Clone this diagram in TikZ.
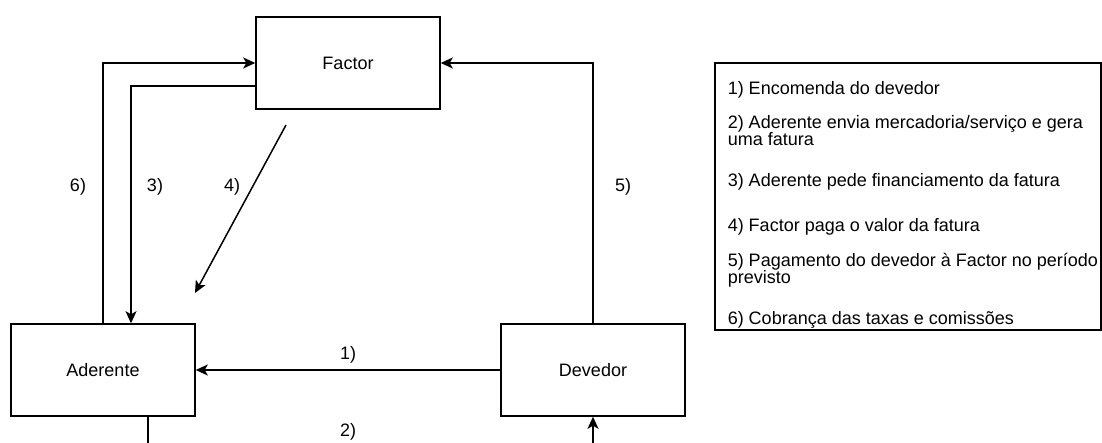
\documentclass[tikz,border=0pt]{standalone}
\usepackage{fontspec}
\setmainfont{Liberation Sans}
\usetikzlibrary{arrows.meta,calc,positioning}

\begin{document}
\begin{tikzpicture}[
    x=1pt, y=-1pt,
    >={Stealth[length=12pt,width=11pt,inset=3pt]},
    line width=1.5pt,
    font=\fontsize{18}{21}\selectfont,
    party/.style     = {draw, rectangle, minimum width=184pt, minimum height=92pt, inner sep=0pt},
    legendbox/.style = {draw, rectangle, minimum width=386pt, minimum height=267pt, inner sep=0pt},
    legendline/.style= {anchor=base west, inner sep=0pt},
  ]
	\clip (0,0) rectangle (1102,443);
	
	% Intervenientes
	\node (Factor)   at (348,63)  [party] {Factor};
	\node (Aderente) at (103,370) [party] {Aderente};
	\node (Devedor)  at (593,370) [party] {Devedor};
	
	% Fluxos
	% 1) Encomenda
	\draw[->] (Devedor.west) -- (Aderente.east);
	% 2) Mercadoria e fatura
	\draw[->] ($ (Aderente.south) + (45,0) $) -- ++(0,40) -| (Devedor.south);
	% 3) Pedido de financiamento
	\draw[->] ($ (Factor.west) + (0,23) $) -| ($ (Aderente.north) + (28,0) $);
	% 4) Pagamento do Factor
	\coordinate (F4) at (286,125);
	\coordinate (A4) at (195,293);
	\draw[->] (F4) -- (A4);
	% 5) Pagamento do devedor
	\draw[->] (Devedor.north) |- (Factor.east);
	% 6) Taxas e comissoes
	\draw[->] (Aderente.north) |- (Factor.west);
	
	% Numeros dos fluxos
	\node (N1) at (348,355) {1)};
	\node (N2) at (348,432) {2)};
	\node (N3) at (155,187) {3)};
	\node (N4) at (232,187) {4)};
	\node (N5) at (623,187) {5)};
	\node (N6) at (78,187)  {6)};
	
	% Legenda
	\node (Legend) at (908,196.5) [legendbox] {};
	\node (E1)  at (727,94.5)  [legendline] {1) Encomenda do devedor};
	\node (E2a) at (727,128.5) [legendline] {2) Aderente envia mercadoria/serviço e gera};
	\node (E2b) at (727,145.5) [legendline] {uma fatura};
	\node (E3)  at (727,186.5) [legendline] {3) Aderente pede financiamento da fatura};
	\node (E4)  at (727,231.5) [legendline] {4) Factor paga o valor da fatura};
	\node (E5a) at (727,266.5) [legendline] {5) Pagamento do devedor à Factor no período};
	\node (E5b) at (727,283.5) [legendline] {previsto};
	\node (E6)  at (727,324.5) [legendline] {6) Cobrança das taxas e comissões};
	
\end{tikzpicture}
\end{document}
